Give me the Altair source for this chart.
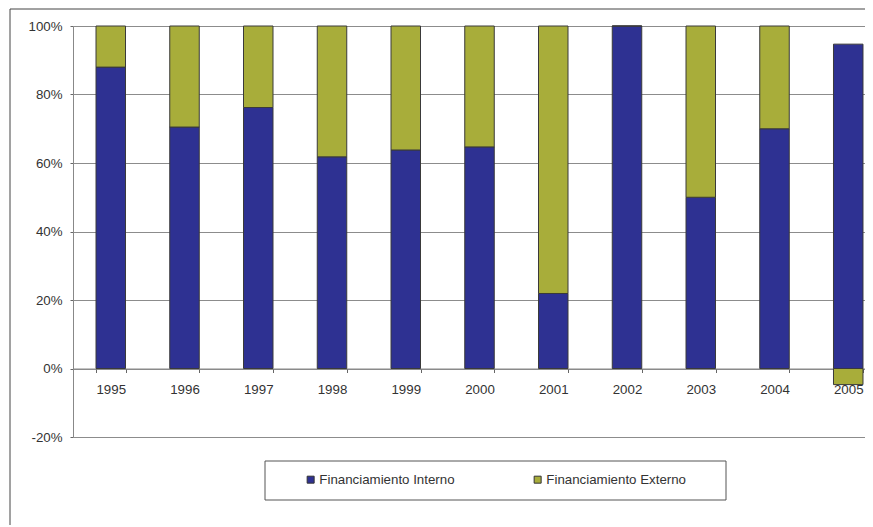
import altair as alt
import pandas as pd

years = ["1995", "1996", "1997", "1998", "1999", "2000", "2001", "2002", "2003", "2004", "2005"]
interno = [88.0, 70.5, 76.2, 61.8, 63.8, 64.7, 21.9, 100.0, 50.0, 70.0, 94.7]
externo = [12.0, 29.5, 23.8, 38.2, 36.2, 35.3, 78.1, 0.0, 50.0, 30.0, -4.7]
series = ["Financiamiento Interno", "Financiamiento Externo"]
colors = ["#2E3192", "#A8AD3A"]
y_ticks = [-20, 0, 20, 40, 60, 80, 100]

rows = []
for i, yr in enumerate(years):
    rows.append({"year": yr, "serie": series[0], "valor": interno[i], "orden": 0})
    rows.append({"year": yr, "serie": series[1], "valor": externo[i], "orden": 1})
df = pd.DataFrame(rows)

FONT = "Liberation Sans"

bars = alt.Chart(df).mark_bar(stroke="#3a3a3a", strokeWidth=1).encode(
    x=alt.X(
        "year:N",
        sort=years,
        scale=alt.Scale(paddingInner=0.6, paddingOuter=0.1695, align=0.92),
        axis=alt.Axis(
            title=None, labelAngle=0, offset=-68.5, tickBand="extent",
            ticks=True, tickSize=4, tickColor="#666", domainColor="#888",
            labelFontSize=13.3, labelColor="#333", labelPadding=10, labelFont=FONT,
        ),
    ),
    y=alt.Y(
        "valor:Q",
        stack="zero",
        scale=alt.Scale(domain=[-20, 100], nice=False),
        axis=alt.Axis(
            values=y_ticks, labelExpr="datum.value + '%'", title=None,
            grid=True, gridColor="#8c8c8c", domainColor="#888",
            tickSize=3, tickColor="#666", labelPadding=8,
            labelFontSize=13.3, labelColor="#333", labelFont=FONT,
        ),
    ),
    color=alt.Color(
        "serie:N",
        scale=alt.Scale(domain=series, range=colors),
        legend=alt.Legend(
            title=None, orient="none", legendX=231, legendY=447,
            direction="horizontal", symbolType="square", symbolSize=49,
            symbolStrokeColor="#333", symbolStrokeWidth=1, labelOffset=2,
            columnPadding=76, labelFontSize=13.3, labelColor="#333",
            labelFont=FONT, padding=0, labelLimit=300,
        ),
    ),
    order=alt.Order("orden:Q"),
)

blank = alt.Data(values=[{}])
box = alt.Chart(blank).mark_rect(fill="white", stroke="#555", strokeWidth=1).encode(
    x=alt.value(192), x2=alt.value(653), y=alt.value(435), y2=alt.value(474)
)
frame_left = alt.Chart(blank).mark_rule(color="#444", strokeWidth=1).encode(
    x=alt.value(-63), y=alt.value(-17), y2=alt.value(520)
)
frame_top = alt.Chart(blank).mark_rule(color="#444", strokeWidth=1).encode(
    x=alt.value(-63), x2=alt.value(800), y=alt.value(-17)
)

chart = alt.layer(box, frame_left, frame_top, bars).properties(
    width=792,
    height=411,
    padding={"left": 65, "top": 18, "right": 0, "bottom": 88},
    autosize=alt.AutoSizeParams(type="none"),
    background="white",
).configure_view(stroke="transparent")

chart.save("out.html", embed_options={"renderer": "svg", "actions": False})
